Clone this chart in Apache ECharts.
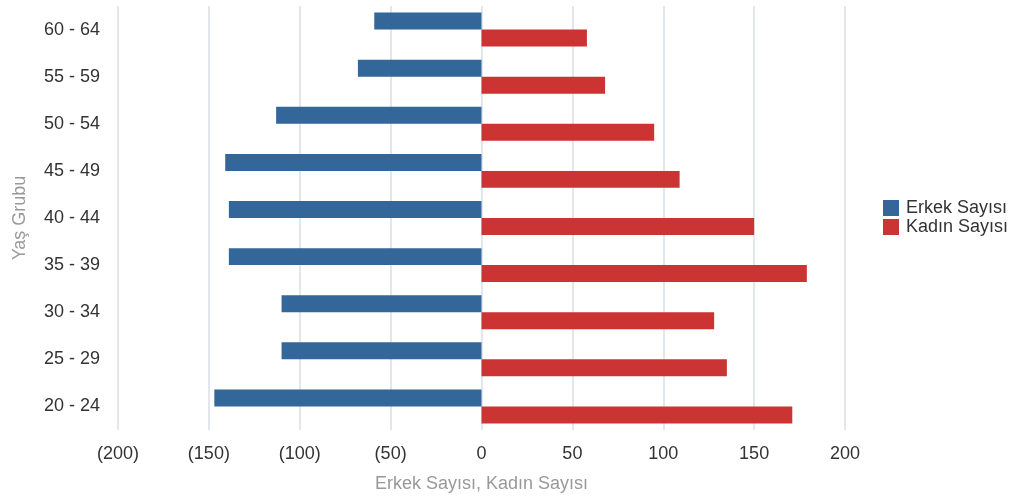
<!DOCTYPE html>
<html>
<head>
<meta charset="utf-8">
<script src="https://cdn.jsdelivr.net/npm/echarts@6/dist/echarts.min.js"></script>
<style>
  html, body { margin: 0; padding: 0; background: #fff; }
  #chart { width: 1014px; height: 500px; }
</style>
</head>
<body>
<div id="chart"></div>
<script>
// age groups, bottom to top
const ageGroups = ['20 - 24', '25 - 29', '30 - 34', '35 - 39', '40 - 44', '45 - 49', '50 - 54', '55 - 59', '60 - 64'];
// men shown as negative values (left side)
const maleCounts = [-147, -110, -110, -139, -139, -141, -113, -68, -59];
const femaleCounts = [171, 135, 128, 179, 150, 109, 95, 68, 58];
const seriesNames = ['Erkek Sayısı', 'Kadın Sayısı'];

const chart = echarts.init(document.getElementById('chart'), null, { renderer: 'canvas' });

const font = '"Liberation Sans", Arial, sans-serif';

chart.setOption({
  animation: false,
  textStyle: { fontFamily: font },
  grid: { left: 118, right: 169, top: 6, bottom: 70, containLabel: false },
  legend: {
    orient: 'vertical',
    left: 883,
    top: 199,
    itemWidth: 16,
    itemHeight: 16,
    itemGap: 1,
    icon: 'rect',
    padding: 0,
    textStyle: { fontSize: 18, color: '#333', fontFamily: font, padding: [0, 0, 0, 2] },
    data: seriesNames
  },
  xAxis: {
    type: 'value',
    min: -200,
    max: 200,
    interval: 50,
    name: 'Erkek Sayısı, Kadın Sayısı',
    nameLocation: 'middle',
    nameGap: 45,
    nameTextStyle: { fontSize: 18, color: '#999', fontFamily: font },
    axisLine: { show: false },
    axisTick: { show: false },
    axisLabel: {
      fontSize: 18,
      color: '#333',
      margin: 15,
      formatter: v => v < 0 ? '(' + Math.abs(v) + ')' : String(v)
    },
    splitLine: { show: true, lineStyle: { color: '#d9dee7', width: 1.5 } }
  },
  yAxis: {
    type: 'category',
    data: ageGroups,
    name: 'Yaş Grubu',
    nameLocation: 'middle',
    nameGap: 89,
    nameRotate: 90,
    nameTextStyle: { fontSize: 18, color: '#999', fontFamily: font },
    axisLine: { show: false },
    axisTick: { show: false },
    axisLabel: { fontSize: 18, color: '#333', margin: 18 }
  },
  series: [
    {
      name: seriesNames[0],
      type: 'bar',
      data: maleCounts,
      itemStyle: { color: '#336699' },
      barGap: '0%',
      barCategoryGap: '28%'
    },
    {
      name: seriesNames[1],
      type: 'bar',
      data: femaleCounts,
      itemStyle: { color: '#cc3333' },
      barGap: '0%',
      barCategoryGap: '28%'
    }
  ]
});
</script>
</body>
</html>
